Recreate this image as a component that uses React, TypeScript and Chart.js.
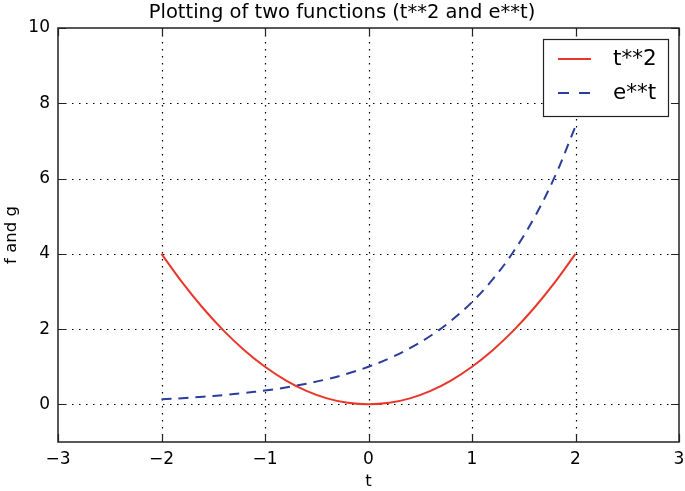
import React, { useEffect, useRef } from "react";
import { Chart, registerables } from "chart.js";

Chart.register(...registerables);

const T_VALUES = [-2, -1.8, -1.6, -1.4, -1.2, -1, -0.8, -0.6, -0.4, -0.2, 0, 0.2, 0.4, 0.6, 0.8, 1, 1.2, 1.4, 1.6, 1.8, 2];
const SQUARE_VALUES = [4, 3.24, 2.56, 1.96, 1.44, 1, 0.64, 0.36, 0.16, 0.04, 0, 0.04, 0.16, 0.36, 0.64, 1, 1.44, 1.96, 2.56, 3.24, 4];
const EXP_VALUES = [0.135, 0.165, 0.202, 0.247, 0.301, 0.368, 0.449, 0.549, 0.67, 0.819, 1, 1.221, 1.492, 1.822, 2.226, 2.718, 3.32, 4.055, 4.953, 6.05, 7.389];
const X_TICKS = [-3, -2, -1, 0, 1, 2, 3];
const Y_TICKS = [0, 2, 4, 6, 8, 10];
const SERIES_NAMES = ["t**2", "e**t"];
const TITLE = "Plotting of two functions (t**2 and e**t)";
const X_LABEL = "t";
const Y_LABEL = "f and g";

const RED = "#e8362a";
const BLUE = "#2b3c9e";
const FONT = "'DejaVu Sans', sans-serif";

const fmt = (v: number) => (v < 0 ? "\u2212" + Math.abs(v) : String(v));

const framePlugin = {
  id: "frame",
  beforeDatasetsDraw(chart: any) {
    const { ctx, chartArea: a, scales } = chart;
    ctx.save();
    ctx.strokeStyle = "#000";
    ctx.lineWidth = 1.2;
    ctx.setLineDash([1.5, 5.5]);
    X_TICKS.forEach((v) => {
      if (v <= -3 || v >= 3) return;
      const x = Math.round(scales.x.getPixelForValue(v)) + 0.5;
      ctx.beginPath();
      ctx.moveTo(x, a.top);
      ctx.lineTo(x, a.bottom);
      ctx.stroke();
    });
    Y_TICKS.forEach((v) => {
      if (v >= 10) return;
      const y = Math.round(scales.y.getPixelForValue(v)) + 0.5;
      ctx.beginPath();
      ctx.moveTo(a.left, y);
      ctx.lineTo(a.right, y);
      ctx.stroke();
    });
    ctx.restore();
  },
  afterDatasetsDraw(chart: any) {
    const { ctx, chartArea: a, scales } = chart;
    ctx.save();
    ctx.setLineDash([]);
    ctx.strokeStyle = "#222";
    ctx.lineWidth = 1.5;
    ctx.strokeRect(a.left, a.top, a.right - a.left, a.bottom - a.top);
    ctx.lineWidth = 1.2;
    const tl = 8;
    X_TICKS.forEach((v) => {
      const x = Math.round(scales.x.getPixelForValue(v)) + 0.5;
      ctx.beginPath();
      ctx.moveTo(x, a.bottom);
      ctx.lineTo(x, a.bottom - tl);
      ctx.moveTo(x, a.top);
      ctx.lineTo(x, a.top + tl);
      ctx.stroke();
    });
    Y_TICKS.forEach((v) => {
      const y = Math.round(scales.y.getPixelForValue(v)) + 0.5;
      ctx.beginPath();
      ctx.moveTo(a.left, y);
      ctx.lineTo(a.left + tl, y);
      ctx.moveTo(a.right, y);
      ctx.lineTo(a.right - tl, y);
      ctx.stroke();
    });

    // Title and axis labels
    ctx.fillStyle = "#000";
    ctx.textAlign = "center";
    ctx.textBaseline = "middle";
    ctx.font = `19.5px ${FONT}`;
    ctx.fillText(TITLE, 342, 13);
    ctx.font = `16.5px ${FONT}`;
    ctx.fillText(X_LABEL, (a.left + a.right) / 2, 482);
    ctx.save();
    ctx.translate(12, (a.top + a.bottom) / 2);
    ctx.rotate(-Math.PI / 2);
    ctx.fillText(Y_LABEL, 0, 0);
    ctx.restore();

    // Legend
    const lx = 543, ly = 39, lw = 125, lh = 77;
    ctx.fillStyle = "#fff";
    ctx.fillRect(lx, ly, lw, lh);
    ctx.strokeStyle = "#222";
    ctx.lineWidth = 1.2;
    ctx.strokeRect(lx + 0.5, ly + 0.5, lw, lh);
    const rows = [
      { name: SERIES_NAMES[0], color: RED, dash: [] as number[] },
      { name: SERIES_NAMES[1], color: BLUE, dash: [11, 10] },
    ];
    rows.forEach((r, i) => {
      const y = 59 + i * 34;
      ctx.strokeStyle = r.color;
      ctx.lineWidth = 2;
      ctx.setLineDash(r.dash);
      ctx.beginPath();
      ctx.moveTo(558, y);
      ctx.lineTo(591, y);
      ctx.stroke();
      ctx.setLineDash([]);
      ctx.fillStyle = "#000";
      ctx.textAlign = "left";
      ctx.font = `21.5px ${FONT}`;
      ctx.fillText(r.name, 613, y);
    });
    ctx.restore();
  },
};

export default function App() {
  const ref = useRef<HTMLCanvasElement>(null);
  useEffect(() => {
    document.body.style.margin = "0";
    const chart = new Chart(ref.current!, {
      type: "line",
      data: {
        datasets: [
          {
            label: SERIES_NAMES[0],
            data: T_VALUES.map((t, i) => ({ x: t, y: SQUARE_VALUES[i] })),
            borderColor: RED,
            borderWidth: 2,
            pointRadius: 0,
            tension: 0.4,
            fill: false,
          },
          {
            label: SERIES_NAMES[1],
            data: T_VALUES.map((t, i) => ({ x: t, y: EXP_VALUES[i] })),
            borderColor: BLUE,
            borderWidth: 2,
            borderDash: [10, 7],
            pointRadius: 0,
            tension: 0.4,
            fill: false,
          },
        ],
      },
      options: {
        animation: false,
        responsive: false,
        maintainAspectRatio: false,
        layout: { padding: { left: 0, right: 6, top: 28, bottom: 0 } },
        plugins: { legend: { display: false }, title: { display: false }, tooltip: { enabled: false } },
        scales: {
          x: {
            type: "linear",
            min: -3,
            max: 3,
            afterBuildTicks: (s: any) => {
              s.ticks = X_TICKS.map((v) => ({ value: v }));
            },
            afterFit: (s: any) => {
              s.height = 49;
              s.paddingLeft = 0;
              s.paddingRight = 0;
            },
            grid: { display: false, drawTicks: false },
            border: { display: false },
            ticks: {
              maxRotation: 0,
              autoSkip: false,
              padding: 7,
              color: "#000",
              font: { family: FONT, size: 17 },
              callback: (v: any) => fmt(Number(v)),
            },
          },
          y: {
            type: "linear",
            min: -1,
            max: 10,
            afterBuildTicks: (s: any) => {
              s.ticks = Y_TICKS.map((v) => ({ value: v }));
            },
            afterFit: (s: any) => {
              s.width = 58;
              s.paddingTop = 0;
              s.paddingBottom = 0;
            },
            grid: { display: false, drawTicks: false },
            border: { display: false },
            ticks: {
              autoSkip: false,
              padding: 8,
              color: "#000",
              font: { family: FONT, size: 17 },
              callback: (v: any) => fmt(Number(v)),
            },
          },
        },
      },
      plugins: [framePlugin],
    });
    return () => chart.destroy();
  }, []);
  return (
    <div style={{ position: "absolute", left: 0, top: 0, width: 685, height: 491 }}>
      <canvas ref={ref} width={685} height={491} style={{ display: "block" }} />
    </div>
  );
}
